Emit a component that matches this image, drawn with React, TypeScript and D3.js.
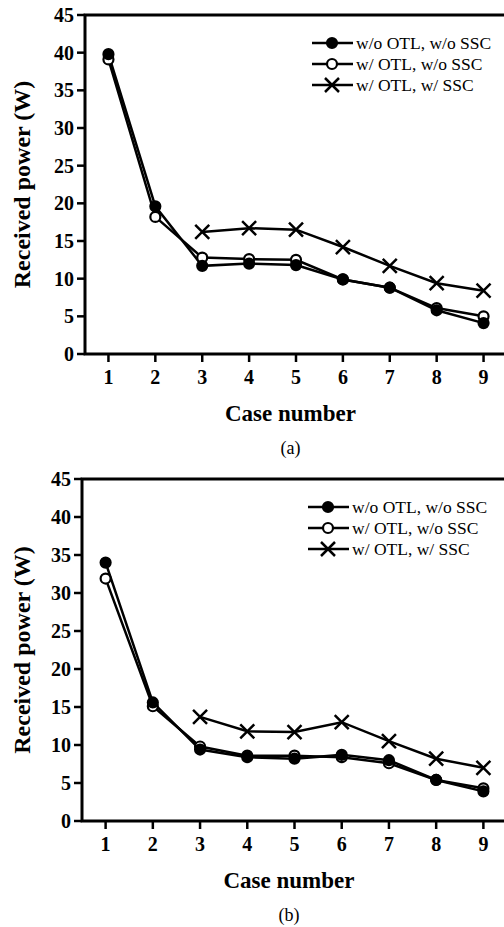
import React from "react";
import * as d3 from "d3";

const cases = [1, 2, 3, 4, 5, 6, 7, 8, 9];
const yTicks = [0, 5, 10, 15, 20, 25, 30, 35, 40, 45];
const seriesNames = ["w/o OTL, w/o SSC", "w/ OTL, w/o SSC", "w/ OTL, w/ SSC"];

// panel (a)
const aNoOtlNoSsc = [39.8, 19.6, 11.7, 12.0, 11.8, 9.9, 8.8, 5.8, 4.1];
const aOtlNoSsc = [39.1, 18.2, 12.8, 12.6, 12.5, 9.9, 8.8, 6.1, 5.0];
const aOtlSsc = [null, null, 16.2, 16.7, 16.5, 14.2, 11.7, 9.4, 8.4];

// panel (b)
const bNoOtlNoSsc = [34.0, 15.6, 9.4, 8.4, 8.2, 8.7, 8.0, 5.4, 3.9];
const bOtlNoSsc = [31.9, 15.1, 9.8, 8.6, 8.6, 8.4, 7.6, 5.4, 4.3];
const bOtlSsc = [null, null, 13.7, 11.8, 11.7, 13.0, 10.5, 8.2, 7.0];

const W = 504, H = 927;
const FONT = "Liberation Serif";
const kinds = ["filled", "open", "cross"];

function T({ children, size, bold, ...rest }) {
  return (
    <text fontFamily={FONT} fontSize={size} fontWeight={bold ? "bold" : "normal"} fill="#000" {...rest}>
      {children}
    </text>
  );
}

function Marker({ cx, cy, kind }) {
  if (kind === "cross") {
    const s = 7;
    return (
      <path d={`M${cx - s},${cy - s}L${cx + s},${cy + s}M${cx - s},${cy + s}L${cx + s},${cy - s}`}
        stroke="#000" strokeWidth={2.5} fill="none" />
    );
  }
  return <circle cx={cx} cy={cy} r={5} fill={kind === "filled" ? "#000" : "#fff"} stroke="#000" strokeWidth={2.2} />;
}

function Panel({ axisX, top, zero, right, legendX, series, caption }) {
  const x = d3.scaleLinear().domain([0.5, 9.5]).range([axisX, right]);
  const y = d3.scaleLinear().domain([0, 45]).range([zero, top]);
  const line = d3.line()
    .defined(d => d[1] != null)
    .x(d => x(d[0])).y(d => y(d[1]));
  const mid = (axisX + W) / 2 - 4;

  return (
    <g>
      {yTicks.map(t => (
        <g key={"y" + t}>
          <line x1={axisX - 8} x2={axisX} y1={y(t)} y2={y(t)} stroke="#000" strokeWidth={2.5} />
          <T x={axisX - 11} y={y(t) + 7} textAnchor="end" size={20} bold>{t}</T>
        </g>
      ))}
      {cases.map(c => (
        <g key={"x" + c}>
          <line x1={x(c)} x2={x(c)} y1={zero} y2={zero + 8} stroke="#000" strokeWidth={2.5} />
          <T x={x(c)} y={zero + 30} textAnchor="middle" size={20} bold>{c}</T>
        </g>
      ))}
      <path d={`M${W},${top}H${axisX}V${zero}H${W}`} fill="none" stroke="#000" strokeWidth={3} />

      {series.map((vals, i) => (
        <path key={"l" + i} d={line(cases.map((c, j) => [c, vals[j]]))}
          fill="none" stroke="#000" strokeWidth={2.5} />
      ))}
      {[2, 1, 0].map(i => cases.map((c, j) => series[i][j] == null ? null : (
        <Marker key={`m${i}-${j}`} cx={x(c)} cy={y(series[i][j])} kind={kinds[i]} />
      )))}

      <T x={mid} y={zero + 67} textAnchor="middle" size={23} bold>Case number</T>
      <T transform={`translate(30,${(top + zero) / 2}) rotate(-90)`} textAnchor="middle" size={24} bold>
        Received power (W)
      </T>
      <T x={mid} y={zero + 100} textAnchor="middle" size={18}>{caption}</T>

      {seriesNames.map((name, i) => {
        const yy = top + 28 + i * 21;
        return (
          <g key={"lg" + i}>
            <line x1={legendX} x2={legendX + 41} y1={yy} y2={yy} stroke="#000" strokeWidth={2.5} />
            <Marker cx={legendX + 20} cy={yy} kind={kinds[i]} />
            <T x={legendX + 44} y={yy + 6} size={17.5}>{name}</T>
          </g>
        );
      })}
    </g>
  );
}

export default function App() {
  return (
    <svg width={W} height={H} style={{ position: "absolute", left: 0, top: 0, background: "#fff" }}>
      <Panel axisX={85} top={15} zero={354} right={507} legendX={312}
        series={[aNoOtlNoSsc, aOtlNoSsc, aOtlSsc]} caption="(a)" />
      <Panel axisX={82} top={479} zero={821} right={507} legendX={308}
        series={[bNoOtlNoSsc, bOtlNoSsc, bOtlSsc]} caption="(b)" />
    </svg>
  );
}
